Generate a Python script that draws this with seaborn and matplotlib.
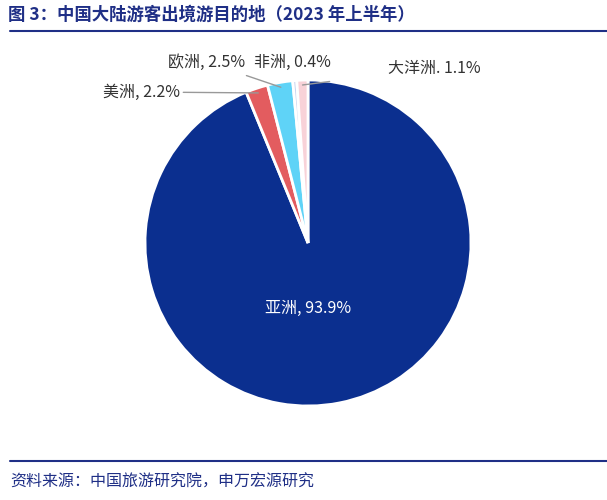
import matplotlib
matplotlib.use("Agg")
import matplotlib.pyplot as plt
import seaborn as sns
import numpy as np

sns.set_theme(style="white")
plt.rcParams['font.family'] = ['Noto Sans CJK SC', 'DejaVu Sans']

regions = ['亚洲', '美洲', '欧洲', '非洲', '大洋洲']
shares = [93.9, 2.2, 2.5, 0.4, 1.1]
colors = ['#0b2f8f', '#e35c5f', '#5fd3f7', '#c9d6f0', '#f8d2d8']

W, H = 607, 500
fig = plt.figure(figsize=(W/100, H/100), dpi=100)
cx, cy, R = 308, 243, 163
ax = fig.add_axes([(cx-R)/W, (H-cy-R)/H, 2*R/W, 2*R/H])
wedges, _ = ax.pie(shares, colors=colors, startangle=90, counterclock=False,
                   wedgeprops=dict(edgecolor='white', linewidth=2))
ax.set_xlim(-1, 1); ax.set_ylim(-1, 1); ax.set_aspect('equal'); ax.axis('off')

def d(px, py):
    return ((px-cx)/R, (cy-py)/R)

def mid(w, r=0.97):
    a = np.deg2rad((w.theta1+w.theta2)/2)
    return (r*np.cos(a), r*np.sin(a))

ax.text(*d(308, 308), f'{regions[0]}, {shares[0]}%', color='white', fontsize=11.5,
        ha='center', va='center')
lab = lambda i: f'{regions[i]}, {shares[i]}%'
ax.annotate(lab(1), xy=mid(wedges[1]), xytext=d(180, 92), ha='right', va='center',
            fontsize=11.5, color='#333333', annotation_clip=False,
            arrowprops=dict(arrowstyle='-', color='#999999', lw=1, shrinkA=0, shrinkB=0))
ax.annotate(lab(2), xy=mid(wedges[2]), xytext=d(245, 62), ha='right', va='center',
            fontsize=11.5, color='#333333', annotation_clip=False,
            arrowprops=dict(arrowstyle='-', color='#999999', lw=1, shrinkA=4, shrinkB=0))
ax.text(*d(292, 62), lab(3), ha='center', va='center', fontsize=11.5, color='#333333')
ax.annotate(f'{regions[4]}. {shares[4]}%', xy=mid(wedges[4]), xytext=d(388, 68), ha='left', va='center',
            fontsize=11.5, color='#333333', annotation_clip=False,
            arrowprops=dict(arrowstyle='-', color='#999999', lw=1, shrinkA=40, shrinkB=0))

fig.text(8/W, 1-15/H, '图 3：中国大陆游客出境游目的地（2023 年上半年）', fontsize=12.5,
         fontweight='bold', color='#1f2f86', va='center', ha='left')
fig.add_artist(plt.Line2D([10/W, 1], [1-31/H]*2, color='#1f2f86', lw=1.5))
fig.add_artist(plt.Line2D([10/W, 1], [1-461/H]*2, color='#1f2f86', lw=1.5))
fig.text(10/W, 1-482/H, '资料来源：中国旅游研究院，申万宏源研究', fontsize=11.5,
         color='#1f2f86', va='center', ha='left')
fig.savefig('out.png', dpi=100)
